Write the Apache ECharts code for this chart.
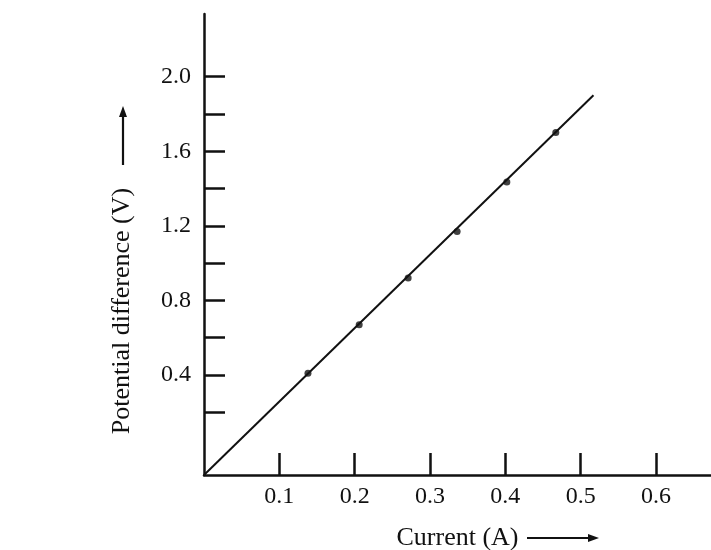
<!DOCTYPE html>
<html>
<head>
<meta charset="utf-8">
<script src="https://cdn.jsdelivr.net/npm/echarts@6/dist/echarts.min.js"></script>
<style>
  html, body { margin: 0; padding: 0; background: #fff; }
  #chart { width: 711px; height: 550px; }
</style>
</head>
<body>
<div id="chart"></div>
<script>
// measured points (current in A, potential difference in V)
var current = [0.138, 0.206, 0.271, 0.336, 0.402, 0.467];
var voltage = [0.41, 0.67, 0.92, 1.17, 1.435, 1.70];
// straight line drawn through them, from the axes corner to its end
var lineX = [0, 0.517];
var lineY = [-0.136, 1.90];
// tick positions
var xTicks = [0.1, 0.2, 0.3, 0.4, 0.5, 0.6];
var yTicks = [0.2, 0.4, 0.6, 0.8, 1.0, 1.2, 1.4, 1.6, 1.8, 2.0];
var yLabels = [0.4, 0.8, 1.2, 1.6, 2.0];

var font = "Liberation Serif";
var ink = "#111";

var chart = echarts.init(document.getElementById("chart"));
var option = {
  animation: false,
  grid: { left: 204, right: 0, top: 14, bottom: 75, outerBoundsMode: "none" },
  xAxis: {
    type: "value",
    min: 0,
    max: 0.673,
    name: "Current (A)",
    nameLocation: "middle",
    nameGap: 50,
    nameTextStyle: { fontFamily: font, fontSize: 26, color: ink },
    axisLine: { show: true, onZero: false, lineStyle: { color: ink, width: 2.5 } },
    axisTick: { show: true, inside: true, length: 22, customValues: xTicks, lineStyle: { color: ink, width: 2.5 } },
    axisLabel: {
      customValues: xTicks,
      formatter: function (v) { return v.toFixed(1); },
      margin: 10,
      fontFamily: font, fontSize: 24, color: ink
    },
    splitLine: { show: false }
  },
  yAxis: {
    type: "value",
    min: -0.136,
    max: 2.336,
    axisLine: { show: true, onZero: false, lineStyle: { color: ink, width: 2.5 } },
    axisTick: { show: true, inside: true, length: 21, customValues: yTicks, lineStyle: { color: ink, width: 2.5 } },
    axisLabel: {
      customValues: yLabels,
      formatter: function (v) { return v.toFixed(1); },
      margin: 13,
      fontFamily: font, fontSize: 24, color: ink
    },
    splitLine: { show: false }
  },
  graphic: [
    {
      type: "text",
      x: 122, y: 311,
      rotation: Math.PI / 2,
      style: {
        text: "Potential difference (V)",
        font: "26px " + font,
        fill: ink,
        align: "center",
        verticalAlign: "middle"
      }
    },
    { type: "line", shape: { x1: 123, y1: 165, x2: 123, y2: 114 }, style: { stroke: ink, lineWidth: 2.2 } },
    { type: "polygon", shape: { points: [[123, 106], [119, 117], [127, 117]] }, style: { fill: ink } },
    { type: "line", shape: { x1: 527, y1: 538, x2: 590, y2: 538 }, style: { stroke: ink, lineWidth: 2.2 } },
    { type: "polygon", shape: { points: [[599, 538], [588, 534], [588, 542]] }, style: { fill: ink } }
  ],
  series: [
    {
      type: "line",
      data: lineX.map(function (x, i) { return [x, lineY[i]]; }),
      showSymbol: false,
      lineStyle: { color: ink, width: 2 },
      z: 2
    },
    {
      type: "scatter",
      data: current.map(function (x, i) { return [x, voltage[i]]; }),
      symbolSize: 7,
      itemStyle: { color: ink },
      z: 3
    }
  ]
};
chart.setOption(option);
</script>
</body>
</html>
